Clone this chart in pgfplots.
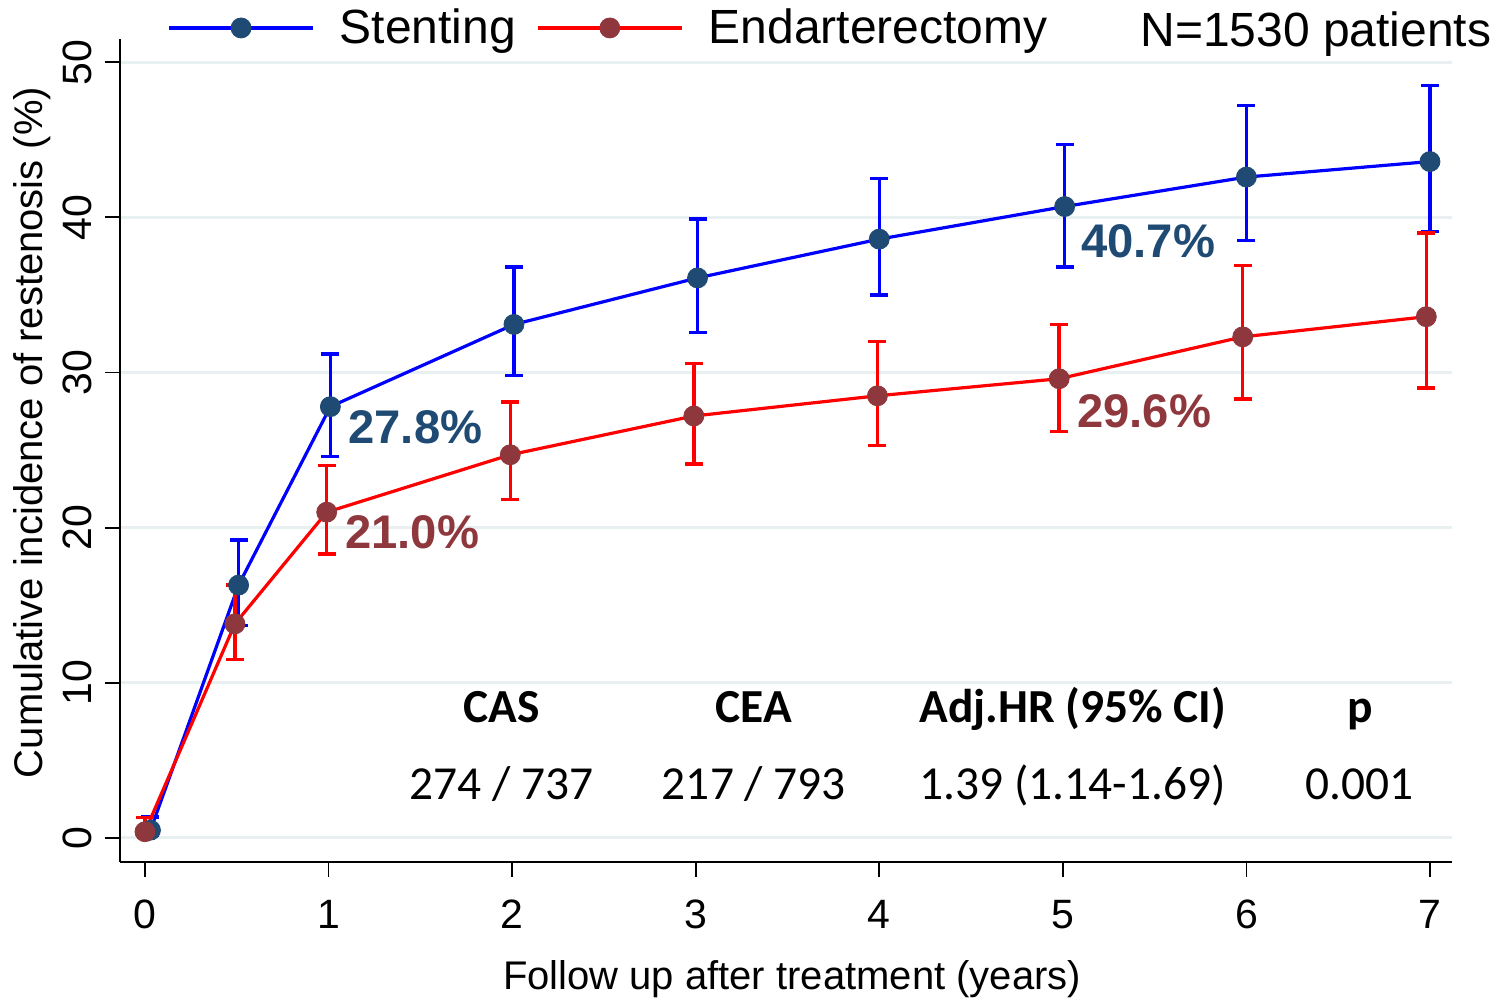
\documentclass[border=0pt]{standalone}
\usepackage{pgfplots}
\usepackage{pgfplotstable}
\pgfplotsset{compat=1.18}
\usepackage{fontspec}
\setmainfont{Liberation Sans}
\newfontfamily\calibri{Carlito}

\definecolor{stline}{HTML}{0000FF}
\definecolor{stdark}{HTML}{1F4A73}
\definecolor{enline}{HTML}{FF0000}
\definecolor{endark}{HTML}{8E383E}
\definecolor{gridc}{HTML}{E9F0F2}

% x, estimate, upper and lower CI distance
\pgfplotstableread{
x    y    ep   em
0.03 0.5  0.85 0.3
0.51 16.3 2.9  2.6
1.01 27.8 3.4  3.2
2.01 33.1 3.7  3.3
3.01 36.1 3.8  3.5
4.00 38.6 3.9  3.6
5.01 40.7 4.0  3.9
6.00 42.6 4.6  4.1
7.00 43.6 4.9  4.5
}\stent

\pgfplotstableread{
x    y    ep   em
0.00 0.4  0.9  0.2
0.49 13.8 2.5  2.3
0.99 21.0 3.0  2.7
1.99 24.7 3.4  2.9
2.99 27.2 3.4  3.1
3.99 28.5 3.5  3.2
4.98 29.6 3.5  3.4
5.98 32.3 4.6  4.0
6.98 33.6 5.4  4.6
}\endart

\begin{document}
\begin{tikzpicture}
\begin{axis}[
    name=ax,
    scale only axis,
    width=666pt, height=411.5pt,
    xmin=-0.136, xmax=7.12,
    ymin=-1.55, ymax=51.5,
    axis x line*=bottom, axis y line*=left,
    axis line style={line width=1pt},
    xtick={0,...,7}, ytick={0,10,...,50},
    tick align=outside,
    major tick length=7.5pt,
    tick style={black, line width=0.9pt},
    ymajorgrids,
    grid style={gridc, line width=1.5pt},
    /pgf/number format/assume math mode=true,
    tick label style={font=\fontsize{20.5}{24}\selectfont},
    yticklabel style={rotate=90, anchor=south},
    xticklabel shift=8pt,
    yticklabel shift=3pt,
    xlabel={Follow up after treatment (years)},
    ylabel={Cumulative incidence of restenosis (\%)},
    every axis x label/.style={at={(axis description cs:0.5045,-0.1555)}, anchor=base,
      font=\fontsize{20}{24}\selectfont},
    every axis y label/.style={at={(axis description cs:-0.066,0.522)}, rotate=90, anchor=center,
      font=\fontsize{20}{24}\selectfont},
    legend image code/.code={%
      \draw[#1, line width=1.8pt] (0pt,0pt) -- (72pt,0pt);
      \draw[#1, mark repeat=2, mark phase=2]
        plot coordinates {(0pt,0pt) (36pt,0pt) (72pt,0pt)};},
    legend columns=2,
    legend style={draw=none, fill=none, inner sep=0pt,
      at={(axis description cs:0.0352,1.0134)}, anchor=west,
      font=\fontsize{24}{28}\selectfont,
      nodes={inner xsep=12.5pt, inner ysep=0pt},
      /tikz/every even column/.append style={column sep=-2.5pt}},
    clip=false,
]
% markers underneath the lines and bars
\addplot[only marks, mark=*, mark size=5pt, mark options={draw=stdark, fill=stdark}, forget plot]
    table[x=x, y=y] {\stent};
\addplot[only marks, mark=*, mark size=5pt, mark options={draw=endark, fill=endark}, forget plot]
    table[x=x, y=y] {\endart};

\addplot[stline, line width=1.6pt, no marks, forget plot,
    error bars/.cd, y dir=both, y explicit,
    error bar style={line width=1.7pt},
    error mark options={rotate=90, mark size=4.5pt, line width=1.7pt}]
    table[x=x, y=y, y error plus=ep, y error minus=em] {\stent};
\addplot[enline, line width=1.6pt, no marks, forget plot,
    error bars/.cd, y dir=both, y explicit,
    error bar style={line width=1.7pt},
    error mark options={rotate=90, mark size=4.5pt, line width=1.7pt}]
    table[x=x, y=y, y error plus=ep, y error minus=em] {\endart};

\addlegendimage{stline, mark=*, mark size=5pt, mark options={draw=stdark, fill=stdark}}
\addlegendentry{Stenting}
\addlegendimage{enline, mark=*, mark size=5pt, mark options={draw=endark, fill=endark}}
\addlegendentry{Endarterectomy}

% percentage labels
\begin{scope}[font=\fontsize{23.6}{28}\selectfont\bfseries, inner sep=0pt]
\node[stdark, anchor=base west] at (axis cs:1.106,25.4) {27.8\%};
\node[endark, anchor=base west] at (axis cs:1.089,18.65) {21.0\%};
\node[stdark, anchor=base west] at (axis cs:5.098,37.4) {40.7\%};
\node[endark, anchor=base west] at (axis cs:5.076,26.45) {29.6\%};
\end{scope}

% summary table
\begin{scope}[font=\fontsize{23.7}{28}\selectfont\calibri, inner sep=0pt, anchor=base]
\node[font=\fontsize{23.7}{28}\selectfont\calibri\bfseries] at (axis cs:1.944,7.42) {CAS};
\node[font=\fontsize{23.7}{28}\selectfont\calibri\bfseries] at (axis cs:3.317,7.42) {CEA};
\node[font=\fontsize{23.7}{28}\selectfont\calibri\bfseries] at (axis cs:5.054,7.42) {Adj.HR (95\% CI)};
\node[font=\fontsize{23.7}{28}\selectfont\calibri\bfseries] at (axis cs:6.618,7.42) {p};
\node at (axis cs:1.944,2.45) {274 / 737};
\node at (axis cs:3.317,2.45) {217 / 793};
\node at (axis cs:5.054,2.45) {1.39 (1.14-1.69)};
\node at (axis cs:6.618,2.45) {0.001};
\end{scope}

\node[anchor=base west, inner sep=0pt, font=\fontsize{24}{28}\selectfont]
    at (axis description cs:0.7658,0.9903) {N=1530 patients};
\end{axis}
\pgfresetboundingbox
\path[use as bounding box] ([shift={(-60pt,-69pt)}]ax.south west)
    rectangle ([shift={(686.5pt,431pt)}]ax.south west);
\end{tikzpicture}
\end{document}
